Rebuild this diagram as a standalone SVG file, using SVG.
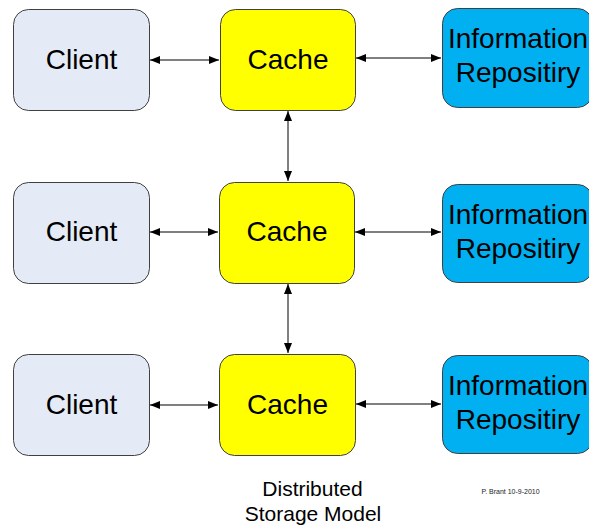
<svg xmlns="http://www.w3.org/2000/svg" width="589" height="527" viewBox="0 0 589 527">
  <style>
    .box { stroke: #404040; stroke-width: 1; }
    .client { fill: #E5EBF6; }
    .cache { fill: #FFFF00; }
    .info { fill: #00B0F0; }
    .lbl { font-family: "Liberation Sans", Arial, sans-serif; font-size: 28px; fill: #000; text-anchor: middle; }
    .cap { font-family: "Liberation Sans", Arial, sans-serif; font-size: 21px; fill: #000; text-anchor: middle; }
    .small { font-family: "Liberation Sans", Arial, sans-serif; font-size: 7px; fill: #222; text-anchor: middle; }
    .conn { stroke: #000; stroke-width: 1; fill: none; marker-start: url(#ah); marker-end: url(#ah); }
  </style>
  <defs>
    <marker id="ah" viewBox="0 0 10 8" refX="10" refY="4" markerWidth="10" markerHeight="8" markerUnits="userSpaceOnUse" orient="auto-start-reverse">
      <path d="M0,0 L10,4 L0,8 Z" fill="#000"/>
    </marker>
  </defs>
  <rect width="589" height="527" fill="#fff"/>

  <g id="connectors">
    <line class="conn" x1="150" y1="60" x2="219" y2="60"/>
    <line class="conn" x1="356" y1="58" x2="441" y2="58"/>
    <line class="conn" x1="288" y1="111" x2="288" y2="181"/>
    <line class="conn" x1="150" y1="232" x2="218" y2="232"/>
    <line class="conn" x1="355" y1="232" x2="441" y2="232"/>
    <line class="conn" x1="288" y1="284" x2="288" y2="353"/>
    <line class="conn" x1="150" y1="405" x2="218" y2="405"/>
    <line class="conn" x1="356" y1="404" x2="441" y2="404"/>
  </g>

  <g id="client1">
    <rect class="box client" x="13.5" y="9.5" width="136" height="101" rx="15"/>
    <text class="lbl" x="81.5" y="69">Client</text>
  </g>
  <g id="cache1">
    <rect class="box cache" x="220.5" y="9.5" width="135" height="101" rx="15"/>
    <text class="lbl" x="288" y="69">Cache</text>
  </g>
  <g id="info1">
    <rect class="box info" x="442.5" y="8.5" width="150" height="99" rx="15"/>
    <text class="lbl" x="518" y="48">Information</text>
    <text class="lbl" x="518" y="82">Repositiry</text>
  </g>

  <g id="client2">
    <rect class="box client" x="13.5" y="182.5" width="136" height="101" rx="15"/>
    <text class="lbl" x="81.5" y="241">Client</text>
  </g>
  <g id="cache2">
    <rect class="box cache" x="219.5" y="182.5" width="135" height="101" rx="15"/>
    <text class="lbl" x="287" y="241">Cache</text>
  </g>
  <g id="info2">
    <rect class="box info" x="442.5" y="184.5" width="150" height="98" rx="15"/>
    <text class="lbl" x="518" y="224">Information</text>
    <text class="lbl" x="518" y="258">Repositiry</text>
  </g>

  <g id="client3">
    <rect class="box client" x="13.5" y="354.5" width="136" height="101" rx="15"/>
    <text class="lbl" x="81.5" y="414">Client</text>
  </g>
  <g id="cache3">
    <rect class="box cache" x="219.5" y="354.5" width="136" height="101" rx="15"/>
    <text class="lbl" x="287.5" y="414">Cache</text>
  </g>
  <g id="info3">
    <rect class="box info" x="442.5" y="355.5" width="150" height="98" rx="15"/>
    <text class="lbl" x="518" y="395">Information</text>
    <text class="lbl" x="518" y="429">Repositiry</text>
  </g>

  <g id="caption">
    <text class="cap" x="312.5" y="496">Distributed</text>
    <text class="cap" x="313" y="521">Storage Model</text>
  </g>
  <g id="credit">
    <text class="small" x="510.5" y="494">P. Brant 10-9-2010</text>
  </g>
</svg>
